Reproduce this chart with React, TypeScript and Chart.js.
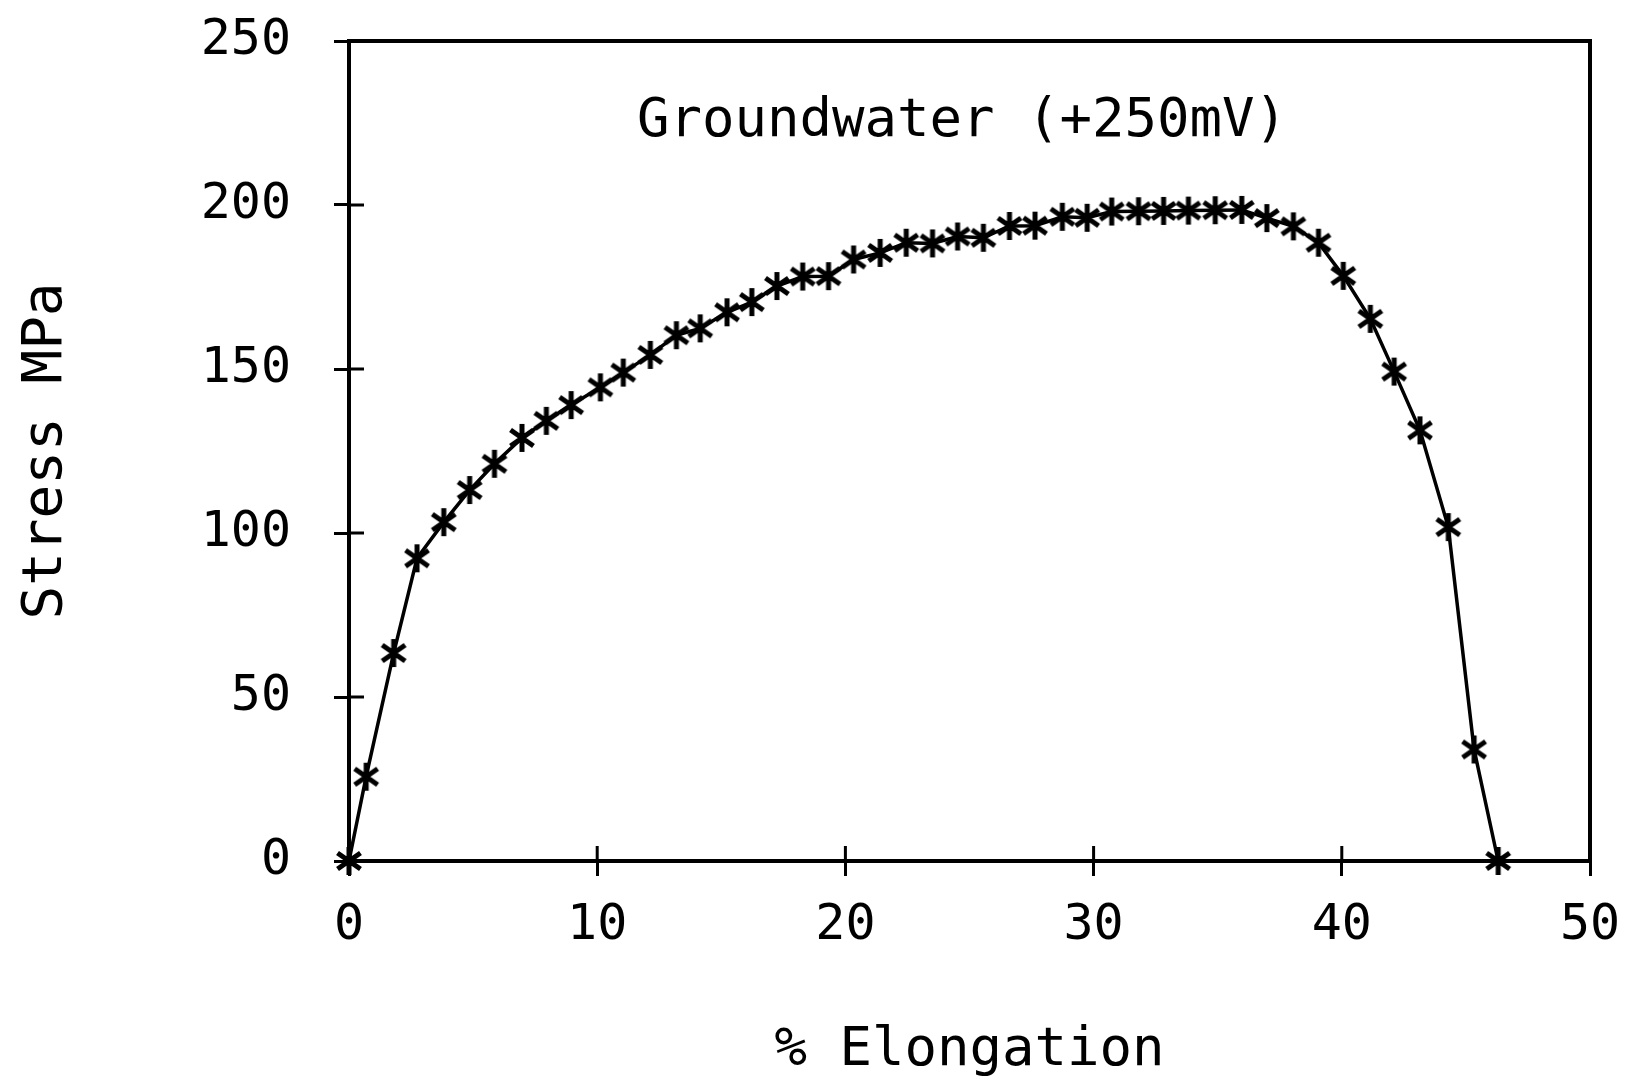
import React, { useEffect, useRef } from "react";
import { Chart, registerables } from "chart.js";

Chart.register(...registerables);

// % elongation (x) and stress in MPa (y)
const elongation = [
  0, 0.69, 1.8, 2.74, 3.82, 4.86, 5.86, 6.97, 7.95, 8.95, 10.13, 11.05, 12.14, 13.19,
  14.15, 15.23, 16.23, 17.24, 18.28, 19.32, 20.33, 21.4, 22.45, 23.51, 24.52, 25.56,
  26.61, 27.64, 28.74, 29.74, 30.73, 31.81, 32.82, 33.82, 34.9, 35.97, 36.98, 38.05,
  39.06, 40.06, 41.15, 42.11, 43.15, 44.29, 45.33, 46.3,
];
const stress = [
  0, 25.7, 63.4, 92.3, 103.3, 113.1, 121.1, 129.0, 134.2, 139.0, 144.4, 148.9, 154.3, 160.3,
  162.4, 167.3, 170.4, 175.3, 178.2, 178.3, 183.4, 185.4, 188.5, 188.3, 190.4, 190.0,
  193.6, 193.7, 196.4, 196.1, 198.0, 198.1, 198.2, 198.3, 198.4, 198.5, 196.0, 193.5,
  188.5, 178.4, 165.3, 149.2, 131.3, 101.8, 34.0, 0,
];
const xRange = [0, 50];
const xStep = 10;
const yRange = [0, 250];
const yStep = 50;
const chartTitle = "Groundwater (+250mV)";
const xTitle = "% Elongation";
const yTitle = "Stress MPa";

const FONT = "'DejaVu Sans Mono', 'Liberation Mono', monospace";

function makeAsterisk(): HTMLCanvasElement {
  const c = document.createElement("canvas");
  c.width = 34;
  c.height = 34;
  const g = c.getContext("2d")!;
  g.strokeStyle = "#000";
  g.lineWidth = 5;
  g.lineCap = "butt";
  const cx = 17;
  const cy = 17;
  const r = 14;
  g.beginPath();
  for (const a of [90, 35, -35]) {
    const rad = (a * Math.PI) / 180;
    const dx = r * Math.cos(rad);
    const dy = r * Math.sin(rad);
    g.moveTo(cx - dx, cy + dy);
    g.lineTo(cx + dx, cy - dy);
  }
  g.stroke();
  return c;
}

const framePlugin = {
  id: "frame",
  beforeDatasetsDraw(chart: any) {
    const { ctx, chartArea: a, scales } = chart;
    ctx.save();
    ctx.strokeStyle = "#000";
    ctx.lineWidth = 4;
    ctx.beginPath();
    ctx.moveTo(a.left, a.top);
    ctx.lineTo(a.right, a.top);
    ctx.lineTo(a.right, a.bottom);
    ctx.stroke();
    ctx.lineWidth = 3;
    ctx.beginPath();
    for (const t of scales.x.ticks) {
      const px = scales.x.getPixelForValue(t.value);
      ctx.moveTo(px, a.bottom);
      ctx.lineTo(px, a.bottom - 15);
    }
    for (const t of scales.y.ticks) {
      const py = scales.y.getPixelForValue(t.value);
      ctx.moveTo(a.left, py);
      ctx.lineTo(a.left + 15, py);
    }
    ctx.stroke();
    ctx.fillStyle = "#000";
    ctx.font = `54px ${FONT}`;
    ctx.textAlign = "center";
    ctx.textBaseline = "middle";
    ctx.fillText(chartTitle, a.left + 613, a.top + 81);
    ctx.restore();
  },
};

export default function App() {
  const ref = useRef<HTMLCanvasElement | null>(null);

  useEffect(() => {
    if (!ref.current) return;
    const marker = makeAsterisk();
    const chart = new Chart(ref.current, {
      type: "line",
      data: {
        datasets: [
          {
            data: elongation.map((x, i) => ({ x, y: stress[i] })),
            borderColor: "#000",
            borderWidth: 3.5,
            tension: 0,
            pointStyle: marker as any,
            pointRadius: 12,
            clip: false as any,
          },
        ],
      },
      options: {
        animation: false,
        responsive: false,
        layout: { padding: { top: 41, right: 39, left: 0, bottom: 0 } },
        plugins: {
          legend: { display: false },
          tooltip: { enabled: false },
        },
        scales: {
          x: {
            type: "linear",
            min: xRange[0],
            max: xRange[1],
            ticks: {
              stepSize: xStep,
              color: "#000",
              font: { family: FONT, size: 50 },
              padding: 20,
            },
            grid: {
              drawOnChartArea: false,
              tickLength: 15,
              color: "#000",
              lineWidth: 3,
            },
            border: { display: true, color: "#000", width: 4 },
            title: {
              display: true,
              text: xTitle,
              color: "#000",
              font: { family: FONT, size: 54 },
              padding: { top: 0, bottom: 8 },
            },
            afterFit: (s: any) => {
              s.height = 230;
              s.paddingLeft = 0;
              s.paddingRight = 0;
            },
          },
          y: {
            type: "linear",
            min: yRange[0],
            max: yRange[1],
            ticks: {
              stepSize: yStep,
              color: "#000",
              font: { family: FONT, size: 50 },
              padding: 43,
            },
            grid: {
              drawOnChartArea: false,
              tickLength: 15,
              color: "#000",
              lineWidth: 3,
            },
            border: { display: true, color: "#000", width: 4 },
            title: {
              display: true,
              text: yTitle,
              color: "#000",
              font: { family: FONT, size: 56 },
              padding: { top: 13, bottom: 0 },
            },
            afterFit: (s: any) => {
              s.width = 349;
              s.paddingTop = 0;
              s.paddingBottom = 0;
            },
          },
        },
      },
      plugins: [framePlugin],
    });
    return () => chart.destroy();
  }, []);

  return (
    <div style={{ position: "fixed", left: 0, top: 0, width: 1629, height: 1091, background: "#fff" }}>
      <canvas ref={ref} width={1629} height={1091} style={{ width: 1629, height: 1091 }} />
    </div>
  );
}
